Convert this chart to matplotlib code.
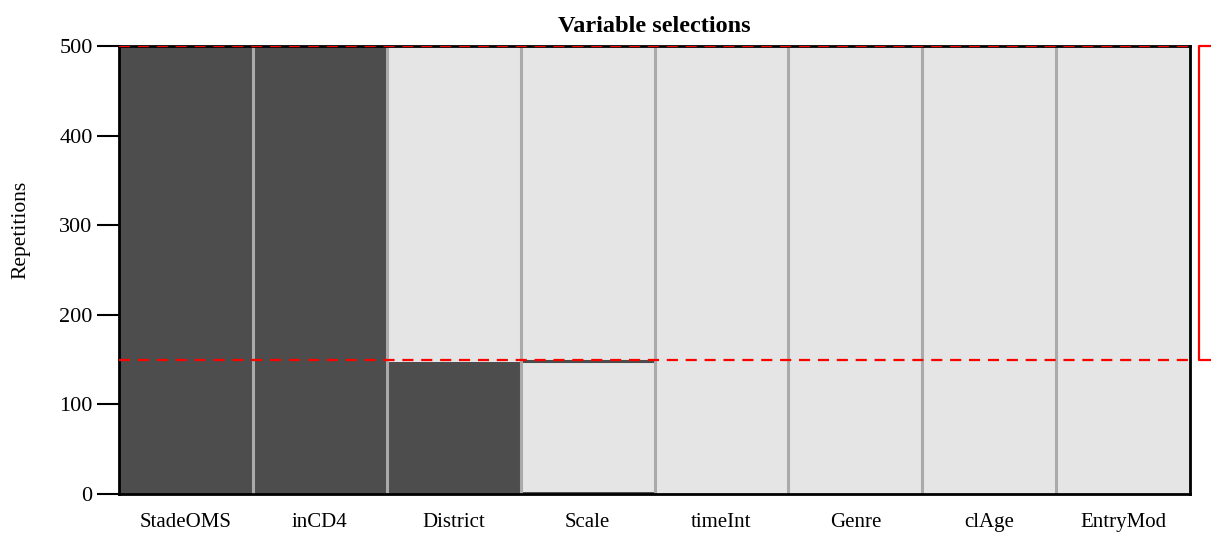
import matplotlib
matplotlib.use('Agg')
import matplotlib.pyplot as plt

plt.rcParams['font.family'] = ['Liberation Serif', 'DejaVu Serif']

variables = ['StadeOMS', 'inCD4', 'District', 'Scale', 'timeInt', 'Genre', 'clAge', 'EntryMod']
selected = [500, 500, 147, 2, 0, 0, 0, 0]
# thin dark marks drawn inside a column (Scale has one near 148)
marks = [0, 0, 0, 148, 0, 0, 0, 0]
n_reps = 500
threshold = 150

fig = plt.figure(figsize=(12.11, 5.34), dpi=100)
ax = fig.add_axes([0.0983, 0.0749, 0.8844, 0.839])

n = len(variables)
xs = list(range(n))

# light background for every column, then the selection counts in dark grey
ax.bar(xs, [n_reps] * n, width=1.0, align='edge', color='#e5e5e5', linewidth=0, zorder=1)
ax.bar(xs, selected, width=1.0, align='edge', color='#4d4d4d', linewidth=0, zorder=2)
for i, m in enumerate(marks):
    if m > 0:
        ax.hlines(m, i, i + 1, colors='#4d4d4d', linewidth=2.2, zorder=3)

# column separators
for i in range(1, n):
    ax.vlines(i, 0, n_reps, colors='#aaaaaa', linewidth=2.2, zorder=4)

# threshold lines
ax.axhline(threshold, color='red', linewidth=1.6, dashes=(5, 3.5), zorder=6)
ax.axhline(n_reps, color='red', linewidth=1.6, dashes=(5, 3.5), zorder=6)

# bracket to the right of the plot
bx = n + 0.066
ax.plot([n + 0.3, bx, bx, n + 0.3], [n_reps, n_reps, threshold, threshold],
        color='red', linewidth=1.6, clip_on=False, zorder=6)

ax.set_xlim(0, n)
ax.set_ylim(0, n_reps)
ax.set_xticks([x + 0.5 for x in xs])
ax.set_xticklabels(variables, fontsize=15)
ax.tick_params(axis='x', length=0, pad=14)
ax.set_yticks([0, 100, 200, 300, 400, 500])
ax.tick_params(axis='y', labelsize=16, length=16, width=1.5, pad=3)

for s in ax.spines.values():
    s.set_linewidth(2)
    s.set_zorder(5)

ax.set_ylabel('Repetitions', fontsize=15.5, va='center')
ax.yaxis.set_label_coords(-0.0915, 0.589)
ax.set_title('Variable selections', fontsize=17.5, fontweight='bold', pad=10)

fig.savefig('out.png', dpi=100)
